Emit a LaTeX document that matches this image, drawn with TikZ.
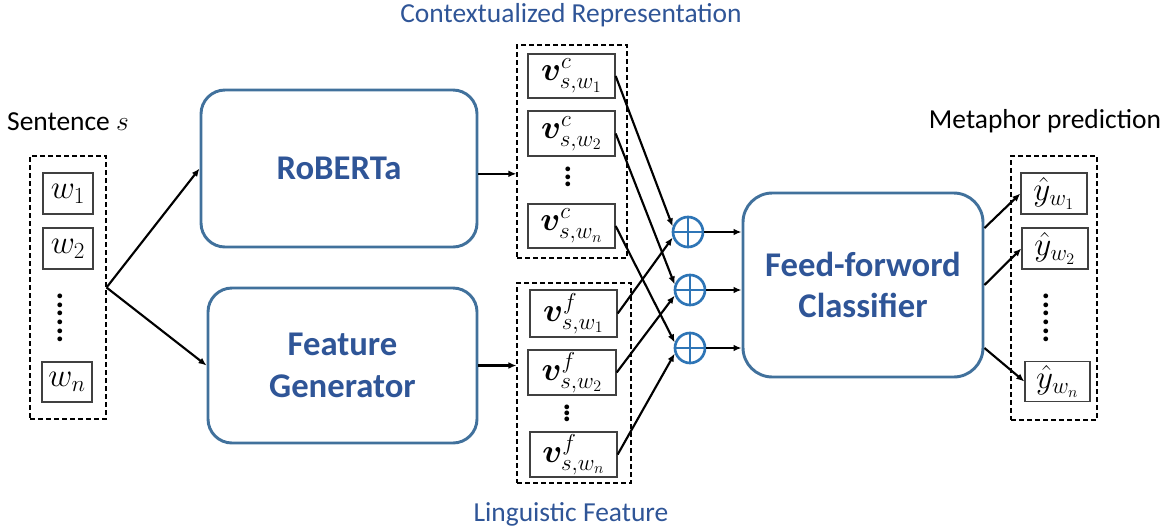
\documentclass[tikz,border=0pt]{standalone}
\usepackage{amsmath,bm}
\usepackage{fontspec}
\setmainfont{Carlito}
\setsansfont{Carlito}
\usetikzlibrary{arrows.meta,calc}
\definecolor{boxblue}{HTML}{41719C}
\definecolor{txtblue}{HTML}{2F5597}
\definecolor{opblue}{HTML}{2E75B6}
\definecolor{cellgray}{HTML}{404040}
\newcommand{\dotcol}[2]{\vbox{\baselineskip=#1\lineskiplimit=0pt\relax
  \foreach \i in {1,...,#2}{\hbox{.}}}}
\tikzset{
  dashbox/.style={draw, line width=0.8pt, dash pattern=on 3.75pt off 2.25pt, inner sep=0pt},
  cell/.style={draw=cellgray, line width=1pt, fill=white, inner sep=0pt, font=\fontsize{26}{30}\selectfont},
  module/.style={draw=boxblue, line width=2.2pt, rounded corners=18pt, text=txtblue,
    font=\fontsize{26}{31}\selectfont\bfseries, align=center, inner sep=0pt},
  arr/.style={-{Latex[length=6pt,width=5pt]}, line width=1.6pt},
  opnode/.style={circle, draw=opblue, line width=2pt, minimum size=22.5pt, inner sep=0pt,
    path picture={\draw[opblue, line width=2pt]
      (path picture bounding box.north) -- (path picture bounding box.south)
      (path picture bounding box.west) -- (path picture bounding box.east);}},
  lbl/.style={font=\fontsize{20.6}{24}\selectfont, inner sep=0pt},
  blbl/.style={lbl, text=txtblue},
  dotsnode/.style={inner sep=0pt, font=\fontsize{24}{26}\bfseries\selectfont}
}
\begin{document}
\begin{tikzpicture}[x=0.75pt,y=-0.75pt]
\useasboundingbox (0,0) rectangle (1175,529);

% labels
\node[lbl] (lsent) at (68,122) {Sentence $s$};
\node[lbl] (lmeta) at (1045,121) {Metaphor prediction};
\node[blbl] (lctx) at (571,15) {Contextualized Representation};
\node[blbl] (lling) at (571,514) {Linguistic Feature};

% input sentence
\node[dashbox, minimum width=57pt, minimum height=197.25pt] (sent) at (68,287.5) {};
\node[cell, minimum width=37.5pt, minimum height=30.75pt] (w1) at (68,193.5) {$w_1$};
\node[cell, minimum width=37.5pt, minimum height=30.75pt] (w2) at (68,248.5) {$w_2$};
\node[dotsnode] (wd) at (60,318) {\dotcol{6.45pt}{6}};
\node[cell, minimum width=37.5pt, minimum height=30pt] (wn) at (67,382) {$w_n$};

% modules
\node[module, minimum width=207pt, minimum height=117.75pt] (rob) at (339,168.5) {RoBERTa};
\node[module, minimum width=201.75pt, minimum height=116.25pt] (fg) at (342.5,365.5) {Feature\\Generator};
\node[module, minimum width=180pt, minimum height=138pt, rounded corners=22pt] (cls) at (863,285) {Feed-forword\\Classifier};

% contextual representation
\node[dashbox, minimum width=82.5pt, minimum height=159.75pt] (ctx) at (572,151.5) {};
\node[cell, minimum width=65.25pt, minimum height=33pt] (vc1) at (571.5,76) {$\bm{v}^{c}_{s,w_1}$};
\node[cell, minimum width=65.25pt, minimum height=33.75pt] (vc2) at (571.5,133.5) {$\bm{v}^{c}_{s,w_2}$};
\node[dotsnode] (vcd) at (568,177) {\dotcol{5.6pt}{3}};
\node[cell, minimum width=65.25pt, minimum height=33pt] (vcn) at (571.5,226) {$\bm{v}^{c}_{s,w_n}$};

% linguistic features
\node[dashbox, minimum width=85.5pt, minimum height=150pt] (ling) at (574,383) {};
\node[cell, minimum width=65.25pt, minimum height=35.25pt] (vf1) at (573.5,313.5) {$\bm{v}^{f}_{s,w_1}$};
\node[cell, minimum width=66pt, minimum height=33.75pt] (vf2) at (572,372.5) {$\bm{v}^{f}_{s,w_2}$};
\node[dotsnode] (vfd) at (567,413) {\dotcol{4.5pt}{3}};
\node[cell, minimum width=65.25pt, minimum height=33.75pt] (vfn) at (573.5,454.5) {$\bm{v}^{f}_{s,w_n}$};

% oplus
\node[opnode] (c1) at (688,232) {};
\node[opnode] (c2) at (690,290) {};
\node[opnode] (c3) at (690,348) {};

% outputs
\node[dashbox, minimum width=64.5pt, minimum height=198pt] (out) at (1054,288) {};
\node[cell, minimum width=49.5pt, minimum height=30.75pt] (y1) at (1054,193.5) {$\hat{y}_{w_1}$};
\node[cell, minimum width=49.5pt, minimum height=30.75pt] (y2) at (1055,248.5) {$\hat{y}_{w_2}$};
\node[dotsnode] (yd) at (1046,318) {\dotcol{6.45pt}{6}};
\node[cell, minimum width=48.75pt, minimum height=30pt] (yn) at (1057.5,381.5) {$\hat{y}_{w_n}$};

% connectors
\draw[arr] (sent.east) -- (rob.west);
\draw[arr] (sent.east) -- (fg.west);
\draw[arr] ([yshift=-4pt]rob.east) -- ([yshift=-4pt]rob.east -| ctx.west);
\draw[arr] (fg.east) -- (fg.east -| ling.west);

\draw[arr] (vc1.east) -- (c1.160);
\draw[arr] (vc2.east) -- (c2.160);
\draw[arr] (vcn.east) -- (c3.160);
\draw[arr] (vf1.east) -- (c1.200);
\draw[arr] (vf2.east) -- (c2.200);
\draw[arr] (vfn.east) -- (c3.200);

\draw[arr] (c1.east) -- (c1.east -| cls.west);
\draw[arr] (c2.east) -- (c2.east -| cls.west);
\draw[arr] (c3.east) -- (c3.east -| cls.west);

\draw[arr] ([yshift=42.75pt]cls.east) -- (y1.west);
\draw[arr] (cls.east) -- (y2.west);
\draw[arr] ([yshift=-47.25pt]cls.east) -- (yn.west);
\end{tikzpicture}
\end{document}
